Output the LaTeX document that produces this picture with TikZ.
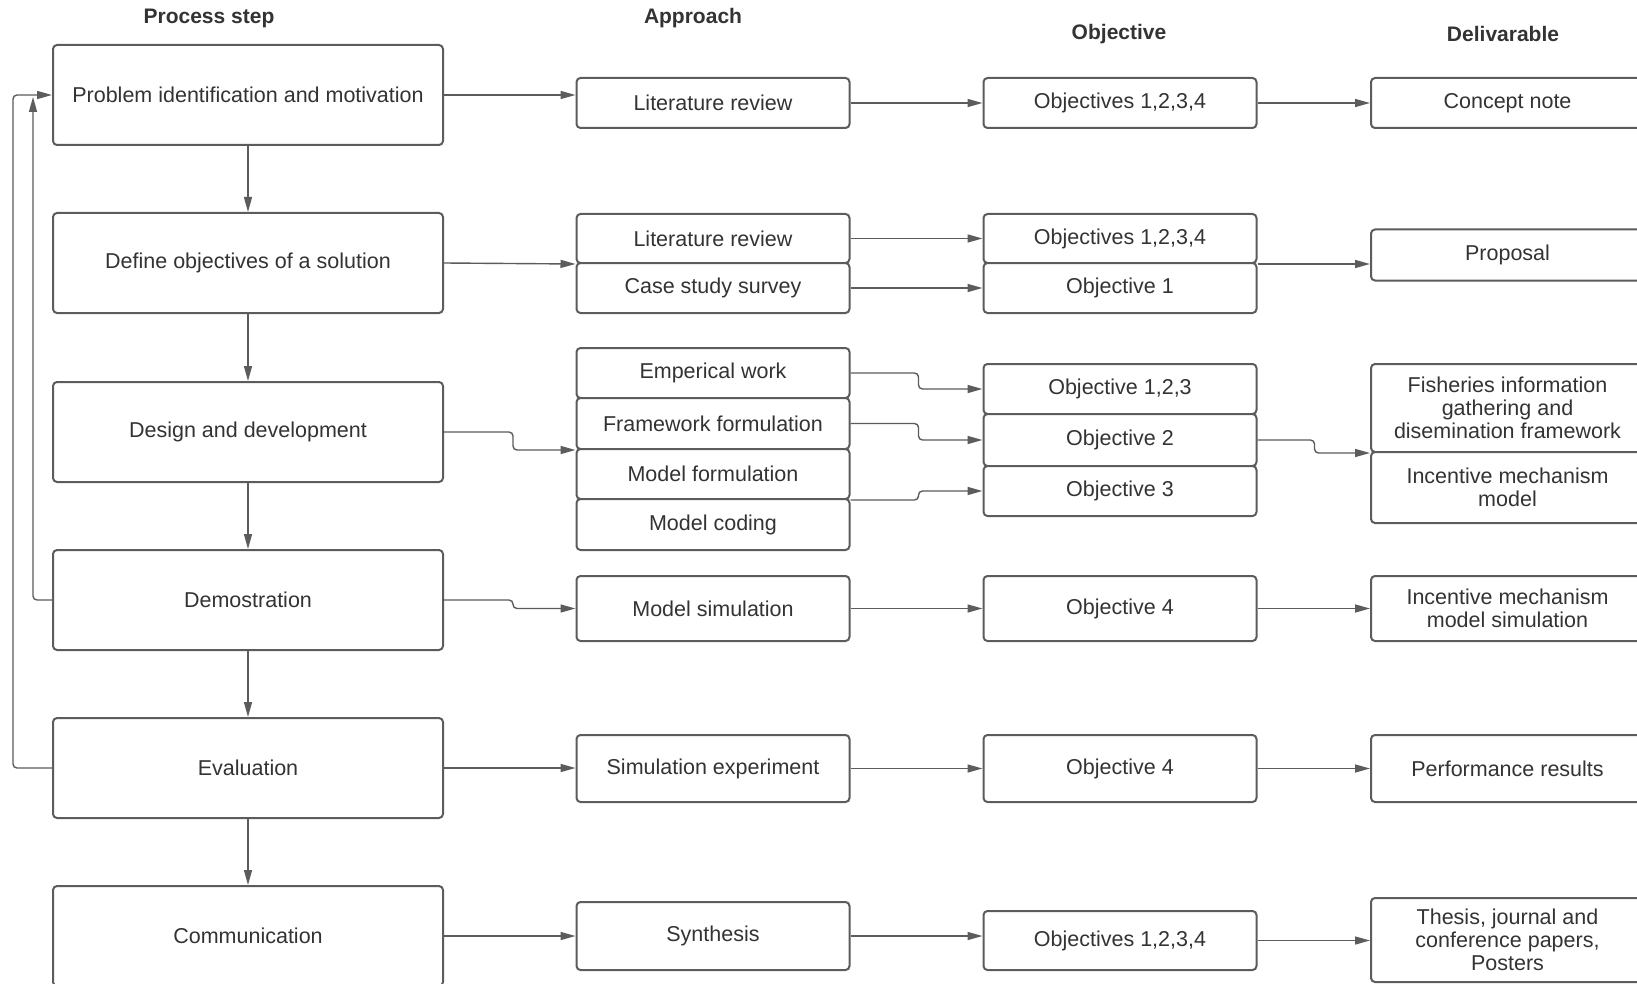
\documentclass[tikz,border=0pt]{standalone}
\usepackage{fontspec}
\setmainfont{Liberation Sans}
\usepackage{xcolor}
\usepackage{tikz}
\usetikzlibrary{arrows.meta}
\colorlet{flowLine}{black!64}
\colorlet{flowText}{black!80}
\tikzset{
  >=Latex,
  % boxes of the left column
  procbox/.style={
    draw=flowLine,
    line width=2pt,
    rounded corners=4pt,
    fill=white,
    text=flowText,
    inner sep=0pt,
    minimum width=390pt,
    minimum height=100pt,
    align=center,
    font=\fontsize{21.5}{23}\selectfont
  },
  cellbox/.style={
    draw=flowLine,
    line width=2pt,
    rounded corners=4pt,
    fill=white,
    text=flowText,
    inner sep=0pt,
    minimum width=273pt,
    minimum height=#1,
    align=center,
    font=\fontsize{21.5}{23}\selectfont
  },
  cellbox/.default=50pt,
  header/.style={
    text=flowText,
    font=\fontsize{21}{24}\selectfont\bfseries
  },
  flow/.style={
    -{Triangle[length=15pt,width=8pt]},
    draw=flowLine,
    line width=1.4pt,
    rounded corners=4pt
  }
}
\begin{document}
\begin{tikzpicture}[x=1pt,y=-1pt]

\useasboundingbox (0,0) rectangle (1637,984);
\clip (0,0) rectangle (1637,984);
\fill[white] (0,0) rectangle (1637,984);

\node[header] (hProc) at (209,18) {Process step};
\node[header] (hAppr) at (693,18) {Approach};
\node[header] (hObj) at (1119,34) {Objective};
\node[header] (hDel) at (1503,34) {Delivarable};

\node[procbox] (p1) at (248,95) {Problem identification and motivation};
\node[procbox] (p2) at (248,263) {Define objectives of a solution};
\node[procbox] (p3) at (248,432) {Design and development};
\node[procbox] (p4) at (248,600) {Demostration};
\node[procbox] (p5) at (248,768) {Evaluation};
\node[procbox] (p6) at (248,936) {Communication};

\node[cellbox] (a1) at (713,103) {Literature review};
\node[cellbox=49pt] (a2a) at (713,238.5) {Literature review};
\node[cellbox] (a2b) at (713,288) {Case study survey};
\node[cellbox] (a3a) at (713,373) {Emperical work};
\node[cellbox=51pt] (a3b) at (713,423.5) {Framework formulation};
\node[cellbox] (a3c) at (713,474) {Model formulation};
\node[cellbox=51pt] (a3d) at (713,524.5) {Model coding};
\node[cellbox=65pt] (a4) at (713,608.5) {Model simulation};
\node[cellbox=67pt] (a5) at (713,768.5) {Simulation experiment};
\node[cellbox=68pt] (a6) at (713,936) {Synthesis};

\node[cellbox] (o1) at (1120,103) {Objectives 1,2,3,4};
\node[cellbox=49pt] (o2a) at (1120,238.5) {Objectives 1,2,3,4};
\node[cellbox] (o2b) at (1120,288) {Objective 1};
\node[cellbox] (o3a) at (1120,389) {Objective 1,2,3};
\node[cellbox=52pt] (o3b) at (1120,440) {Objective 2};
\node[cellbox] (o3c) at (1120,491) {Objective 3};
\node[cellbox=65pt] (o4) at (1120,608.5) {Objective 4};
\node[cellbox=67pt] (o5) at (1120,768.5) {Objective 4};
\node[cellbox=59pt] (o6) at (1120,940.5) {Objectives 1,2,3,4};

\node[cellbox] (d1) at (1507.5,103) {Concept note};
\node[cellbox=51pt] (d2) at (1507.5,255) {Proposal};
\node[cellbox=88pt] (d3a) at (1507.5,408) {Fisheries information\\gathering and\\disemination framework};
\node[cellbox=71pt] (d3b) at (1507.5,487.5) {Incentive mechanism\\model};
\node[cellbox=65pt] (d4) at (1507.5,608.5) {Incentive mechanism\\model simulation};
\node[cellbox=67pt] (d5) at (1507.5,768.5) {Performance results};
\node[cellbox=84pt] (d6) at (1507.5,940) {Thesis, journal and\\conference papers,\\Posters};

\foreach \a/\b in {p1/p2,p2/p3,p3/p4,p4/p5,p5/p6}
  \draw[flow] (\a.south) -- (\b.north);

% process step -> approach
\draw[flow] (p1.east) -- (p1.east -| a1.west);
\draw[flow] (p2.east) -- (a2a.south west);
\draw[flow] (p3.east) -- ++(69,0) |- (a3b.south west);
\draw[flow] (p4.east) -- ++(69,0) |- (a4.west);
\draw[flow] (p5.east) -- (p5.east -| a5.west);
\draw[flow] (p6.east) -- (a6.west);

% approach -> objective
\draw[flow] (a1.east) -- (o1.west);
\draw[flow] (a2a.east) -- (o2a.west);
\draw[flow] (a2b.east) -- (o2b.west);
\draw[flow] (a3a.east) -- ++(68,0) |- (o3a.west);
\draw[flow] (a3b.east) -- ++(68,0) |- (o3b.west);
\draw[flow] (a3c.south east) -- ++(68,0) |- (o3c.west);
\draw[flow] (a4.east) -- (o4.west);
\draw[flow] (a5.east) -- (o5.west);
\draw[flow] (a6.east) -- (a6.east -| o6.west);

% objective -> delivarable
\draw[flow] (o1.east) -- (d1.west);
\draw[flow] (o2a.south east) -- (o2a.south east -| d2.west);
\draw[flow] (o3b.east) -- ++(57,0) |- (d3a.south west);
\draw[flow] (o4.east) -- (d4.west);
\draw[flow] (o5.east) -- (d5.west);
\draw[flow] (o6.east) -- (o6.east -| d6.west);

% feedback loops
\coordinate (fbtip) at (33,97);
\draw[flow] (p5.west) -- ++(-39,0) |- (p1.west);
\draw[flow] (p4.west) -| (fbtip);

\end{tikzpicture}
\end{document}
